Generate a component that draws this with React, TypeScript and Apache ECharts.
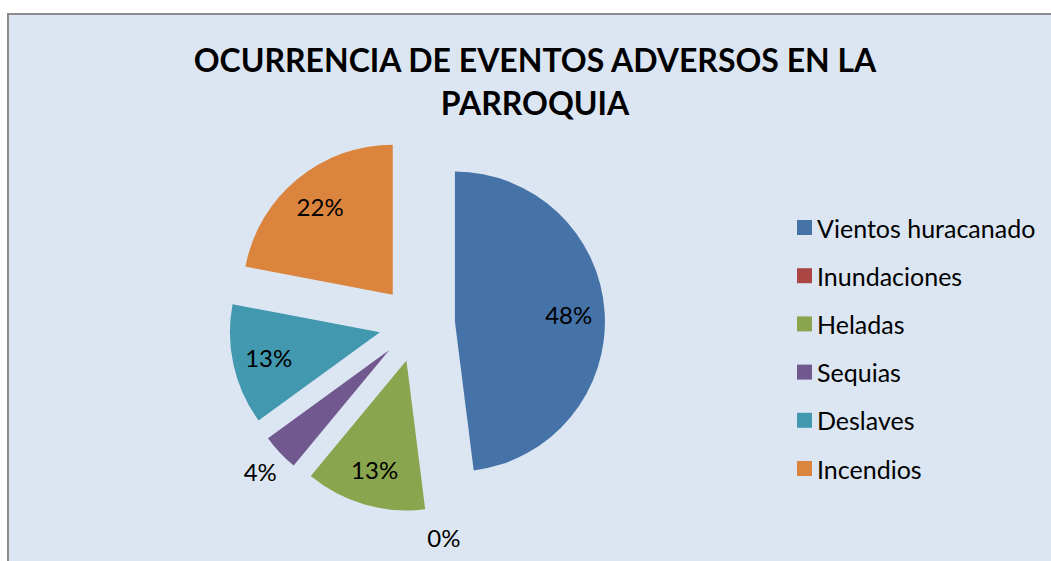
import React, { useEffect, useRef } from "react";
import * as echarts from "echarts";

const categories = ["Vientos huracanado", "Inundaciones", "Heladas", "Sequias", "Deslaves", "Incendios"];
const values = [48, 0, 13, 4, 13, 22];
const colors = ["#4572a7", "#aa4643", "#89a54e", "#71588f", "#4198af", "#db843d"];
const insideLabels = [true, false, true, false, true, true];
const titleText = "OCURRENCIA DE EVENTOS ADVERSOS EN LA\nPARROQUIA";

const FONT = "Lato, 'Open Sans', sans-serif";

export default function App() {
  const ref = useRef<HTMLDivElement>(null);
  useEffect(() => {
    if (!ref.current) return;
    const chart = echarts.init(ref.current, null, { renderer: "svg" });
    const center = [417, 324];
    const offset = 38;
    const fmt = (p: any) => Math.round(p.percent) + "%";
    const labelStyle = { color: "#000", fontSize: 24, fontFamily: FONT };
    const base = {
      type: "pie",
      center,
      startAngle: 90,
      clockwise: true,
      selectedMode: "multiple",
      selectedOffset: offset,
      silent: true,
      avoidLabelOverlap: false,
      labelLine: { show: false },
      emphasis: { disabled: true },
    };
    chart.setOption({
      animation: false,
      backgroundColor: "#ffffff",
      graphic: [
        {
          type: "rect",
          shape: { x: 8, y: 14, width: 1100, height: 600 },
          style: { fill: "#dce6f2", stroke: "#8c8c8c", lineWidth: 2 },
          z: -10,
          silent: true,
        },
      ],
      title: {
        text: titleText,
        left: 535,
        top: 38,
        padding: 0,
        textAlign: "center",
        textStyle: { fontFamily: FONT, fontSize: 32, fontWeight: "bold", color: "#000", lineHeight: 43 },
      },
      legend: {
        orient: "vertical",
        left: 797,
        top: 215,
        padding: 0,
        itemWidth: 15,
        itemHeight: 15,
        itemGap: 23.2,
        icon: "rect",
        data: categories,
        textStyle: { fontFamily: FONT, fontSize: 25, color: "#000", lineHeight: 24 },
      },
      series: [
        {
          ...base,
          name: "main",
          radius: [0, 150],
          label: { show: false },
          data: categories.map((n, i) => ({
            name: n,
            value: values[i],
            selected: true,
            itemStyle: { color: colors[i] },
          })),
        },
        {
          ...base,
          name: "insideLabels",
          radius: [98, 124],
          itemStyle: { color: "rgba(0,0,0,0)" },
          label: { show: true, position: "inside", formatter: fmt, ...labelStyle },
          data: categories.map((n, i) => ({
            name: n,
            value: values[i],
            selected: true,
            itemStyle: { color: "rgba(0,0,0,0)" },
            label: { show: insideLabels[i] },
          })),
        },
        {
          ...base,
          name: "outsideLabels",
          radius: [164, 184],
          itemStyle: { color: "rgba(0,0,0,0)" },
          label: { show: true, position: "inside", formatter: fmt, ...labelStyle },
          data: categories.map((n, i) => ({
            name: n,
            value: values[i],
            selected: true,
            itemStyle: { color: "rgba(0,0,0,0)" },
            label: { show: !insideLabels[i] },
          })),
        },
      ],
    });
    return () => chart.dispose();
  }, []);
  return (
    <div style={{ position: "fixed", left: 0, top: 0, width: 1051, height: 561, overflow: "hidden" }}>
      <div ref={ref} style={{ width: 1051, height: 561 }} />
    </div>
  );
}
